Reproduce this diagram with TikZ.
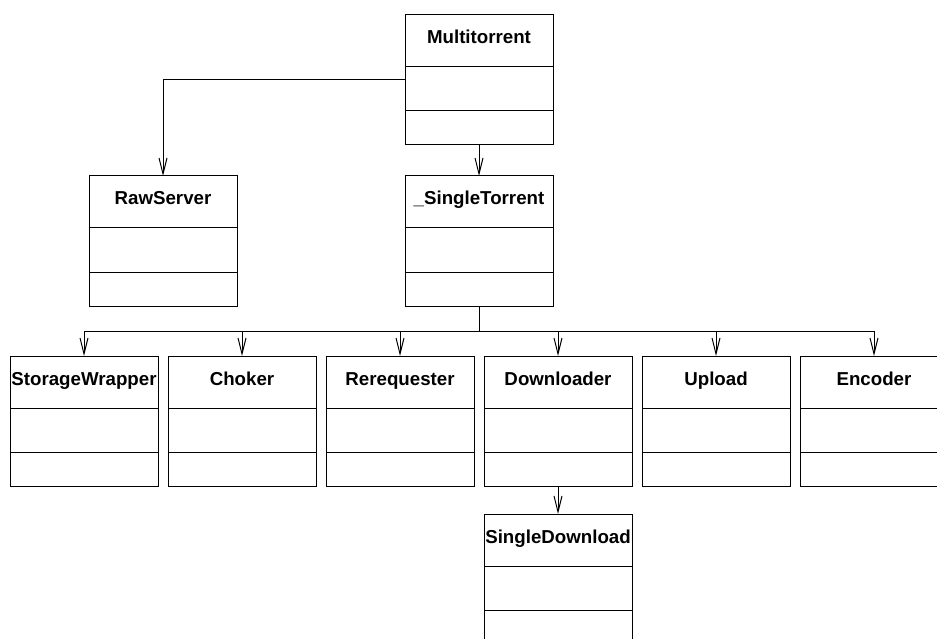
\documentclass[tikz,border=0pt]{standalone}
\usepackage{fontspec}
\setmainfont{Liberation Sans}
\usetikzlibrary{arrows.meta}
\tikzset{
  cls/.style={draw, line width=1pt, minimum width=148pt, minimum height=130pt, inner sep=0pt, outer sep=0pt, anchor=north west},
  ttl/.style={font=\fontsize{18.7}{20}\selectfont\bfseries, inner sep=0pt, anchor=base},
  arr/.style={line width=1pt, -{Straight Barb[length=16pt,width=8pt,line width=1pt]}},
  conn/.style={line width=1pt}
}
\newcommand\umlclass[4]{%
  \node[cls] (#1) at (#2,#3) {};
  \node[ttl] (#1t) at ([yshift=-29pt]#1.north) {#4};
  \draw[conn] ([yshift=-52pt]#1.north west) -- ([yshift=-52pt]#1.north east);
  \draw[conn] ([yshift=-96pt]#1.north west) -- ([yshift=-96pt]#1.north east);
}
\begin{document}
\begin{tikzpicture}[x=1pt,y=-1pt]
\clip (0,0) rectangle (937,639);
\fill[white] (0,0) rectangle (937,639);
\umlclass{mt}{405}{15}{Multitorrent}
\umlclass{rs}{89}{176}{RawServer}
\umlclass{st}{405}{176}{\_SingleTorrent}
\umlclass{sw}{10}{356}{StorageWrapper}
\umlclass{ch}{168}{356}{Choker}
\umlclass{rr}{326}{356}{Rerequester}
\umlclass{dl}{484}{356}{Downloader}
\umlclass{up}{642}{356}{Upload}
\umlclass{en}{800}{356}{Encoder}
\umlclass{sd}{484}{514}{SingleDownload}
\draw[arr] ([yshift=-65pt]mt.north west) -| (rs.north);
\draw[arr] (mt.south) -- (st.north);
\coordinate (bus) at (st.center |- 0,331);
\draw[conn] (st.south) -- (bus);
\foreach \n in {sw,ch,rr,dl,up,en}{
  \draw[arr] (bus) -| (\n.north);
}
\draw[arr] (dl.south) -- (sd.north);
\end{tikzpicture}
\end{document}
